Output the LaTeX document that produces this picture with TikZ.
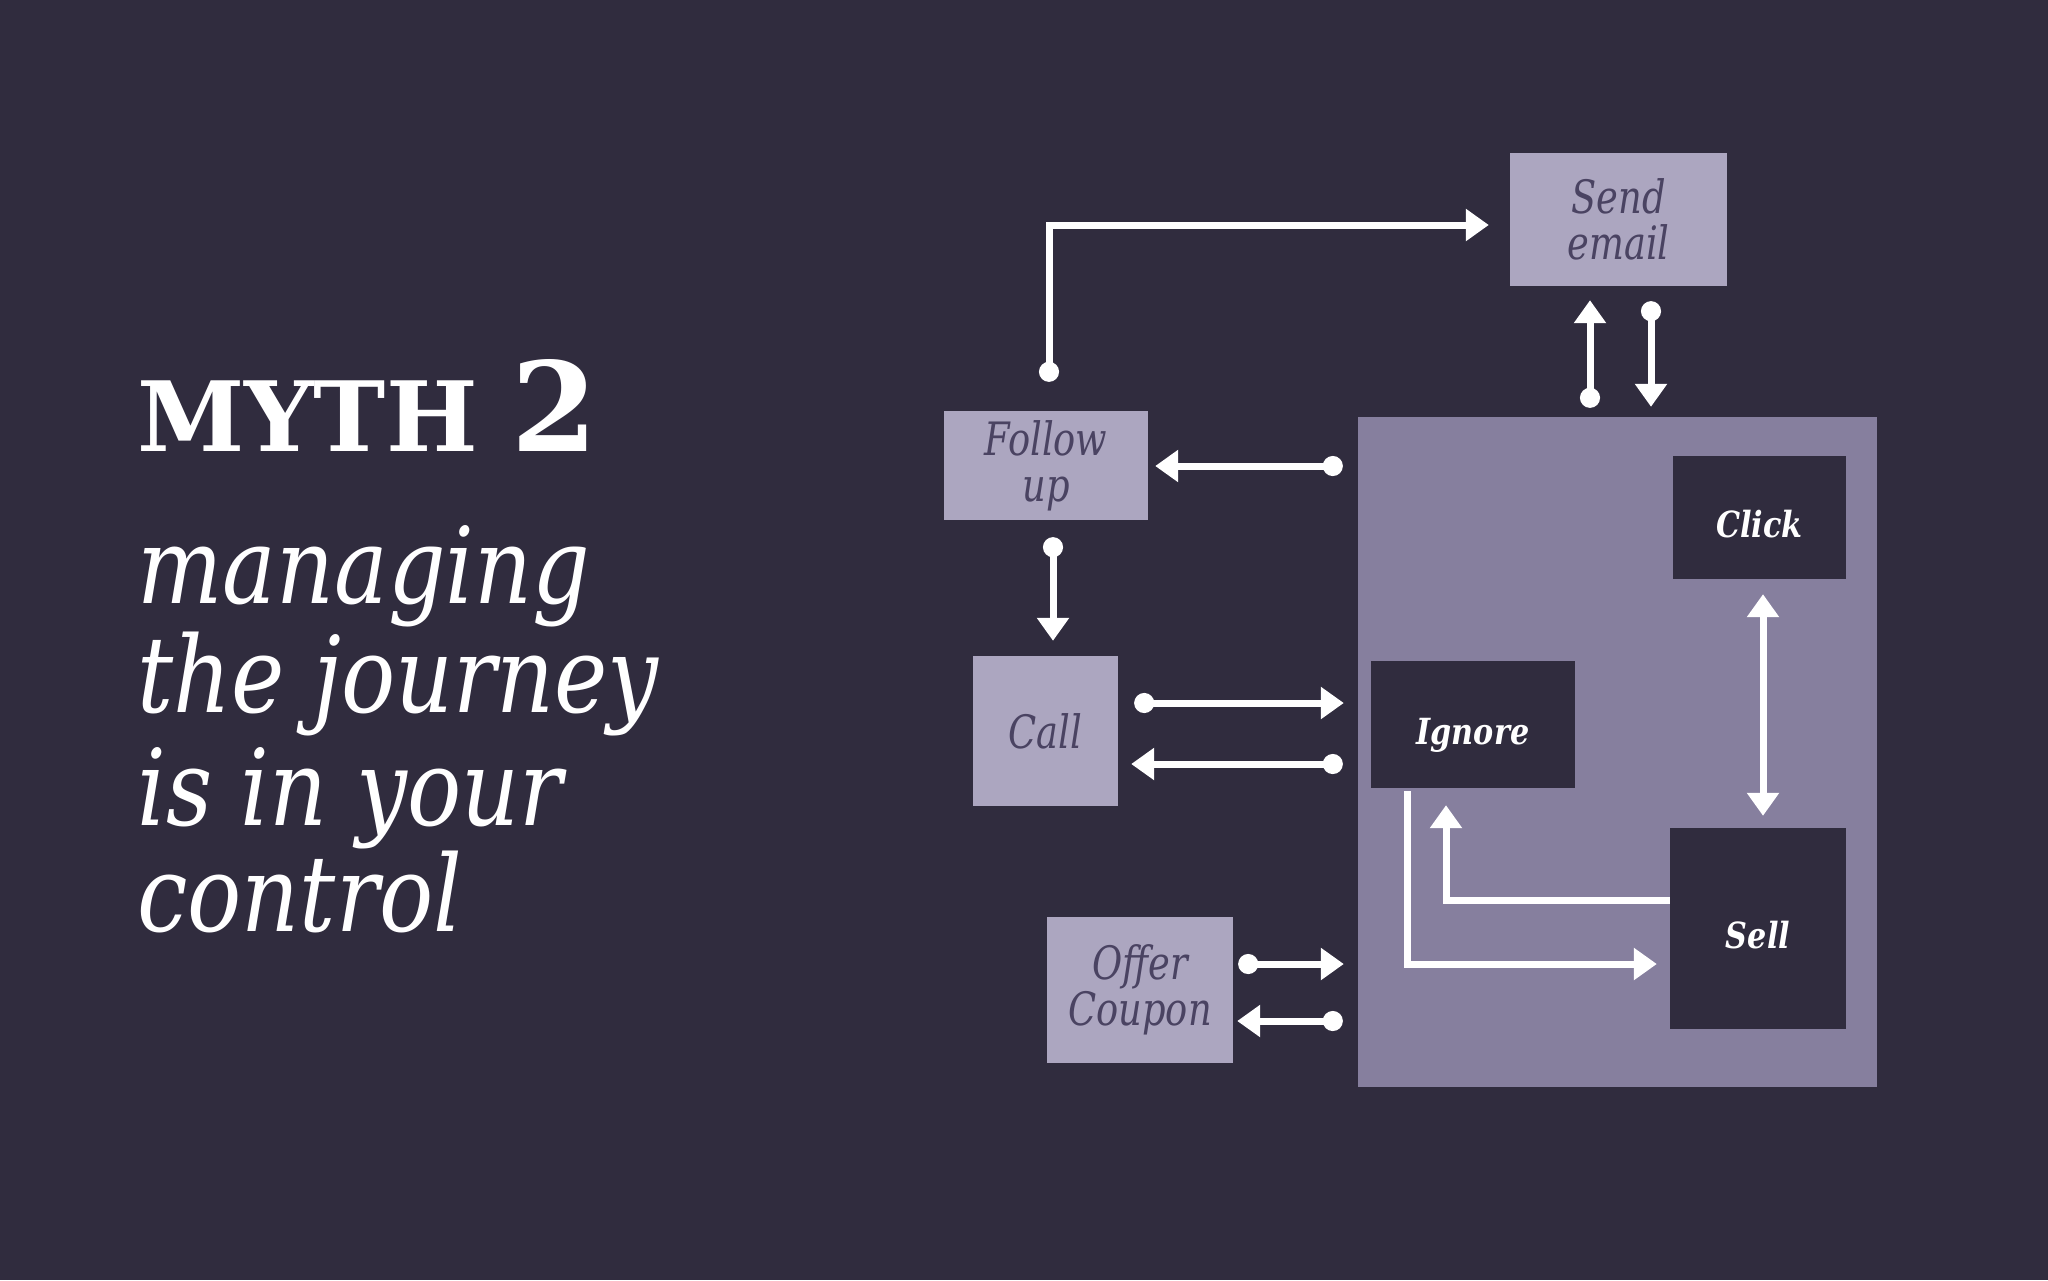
\documentclass[tikz,border=0pt]{standalone}
\usepackage{fontspec}
\setmainfont{DejaVu Serif}
\newfontfamily\titlefont{DejaVu Serif}
\newfontfamily\bodyfont[FakeStretch=0.85]{DejaVu Serif}
\newfontfamily\labfont[FakeStretch=0.8]{DejaVu Serif}
\newfontfamily\darkfont[FakeStretch=0.84]{DejaVu Serif}
\usetikzlibrary{arrows.meta,calc}
\definecolor{bg}{RGB}{48,44,62}
\definecolor{contcol}{RGB}{134,127,158}
\definecolor{lightbox}{RGB}{172,166,192}
\definecolor{labtext}{RGB}{74,67,98}
\tikzset{
  lightnode/.style={fill=lightbox, inner sep=0pt, align=center, text=labtext,
    font=\labfont\itshape\fontsize{46}{46}\selectfont},
  darknode/.style={fill=bg, inner sep=0pt, align=center, text=white,
    text height=40pt, text depth=0pt,
    font=\darkfont\bfseries\itshape\fontsize{36}{40}\selectfont},
  conn/.style={draw=white, line width=7pt},
  da/.style={conn, {Circle[length=20pt]}-{Triangle[length=23pt,width=31pt]}},
  ta/.style={conn, -{Triangle[length=23pt,width=31pt]}},
  dta/.style={conn, {Triangle[length=23pt,width=31pt]}-{Triangle[length=23pt,width=31pt]}},
  bodyline/.style={anchor=base west, inner sep=0pt, text=white,
    font=\bodyfont\itshape\fontsize{106}{106}\selectfont}
}
\begin{document}
\begin{tikzpicture}[x=1pt,y=-1pt]
\fill[bg] (0,0) rectangle (2048,1280);
\useasboundingbox (0,0) rectangle (2048,1280);

% title
\node[anchor=base west, inner sep=0pt, text=white,
  font=\titlefont\bfseries\fontsize{97}{97}\selectfont] (myth) at (137,451)
  {MYTH {\fontsize{124}{124}\selectfont 2}};
\node[bodyline] (l1) at (137,603) {managing};
\node[bodyline] (l2) at (137,712) {the journey};
\node[bodyline] (l3) at (137,825) {is in your};
\node[bodyline] (l4) at (137,931) {control};

% container and boxes
\node[fill=contcol, inner sep=0pt, minimum width=519pt, minimum height=670pt] (cont) at (1617.5,752) {};
\node[lightnode, minimum width=217pt, minimum height=133pt] (send) at (1618.5,219.5) {Send\\email};
\node[lightnode, minimum width=204pt, minimum height=109pt] (fu) at (1046,465.5) {Follow\\up};
\node[lightnode, minimum width=145pt, minimum height=150pt] (call) at (1045.5,731) {Call};
\node[lightnode, minimum width=186pt, minimum height=146pt] (coupon) at (1140,990) {Offer\\Coupon};
\node[darknode, minimum width=173pt, minimum height=123pt] (click) at (1759.5,517.5) {Click};
\node[darknode, minimum width=204pt, minimum height=127pt] (ignore) at (1473,724.5) {Ignore};
\node[darknode, minimum width=176pt, minimum height=201pt] (sell) at (1758,928.5) {Sell};

% connectors
\draw[da] ($(fu.north)+(3,-29)$) |- ($(send.west)+(-21,5.5)$);
\draw[da] ($(cont.north)+(-27.5,-9)$) -- ($(send.south)+(-28.5,14)$);
\draw[da] ($(send.south)+(32.5,15)$) -- ($(cont.north)+(33.5,-10)$);
\draw[da] ($(cont.west)+(-15,-286)$) -- ($(fu.east)+(7,0.5)$);
\draw[da] ($(fu.south)+(7,17)$) -- ($(call.north)+(7.5,-15)$);
\draw[da] ($(call.east)+(16,-28)$) -- ($(cont.west)+(-14,-49)$);
\draw[da] ($(cont.west)+(-15,12)$) -- ($(call.east)+(13,33)$);
\draw[da] ($(coupon.east)+(5,-26)$) -- ($(cont.west)+(-14,212)$);
\draw[da] ($(cont.west)+(-15,269)$) -- ($(coupon.east)+(4,31)$);
\draw[dta] ($(click.south)+(3.5,15)$) -- ($(sell.north)+(5,-12)$);
\draw[ta] ($(ignore.south)+(-66,3)$) |- ($(sell.west)+(-13,35.5)$);
\draw[ta] ($(sell.west)+(0,-28.5)$) -| ($(ignore.south)+(-27,17)$);
\end{tikzpicture}
\end{document}
